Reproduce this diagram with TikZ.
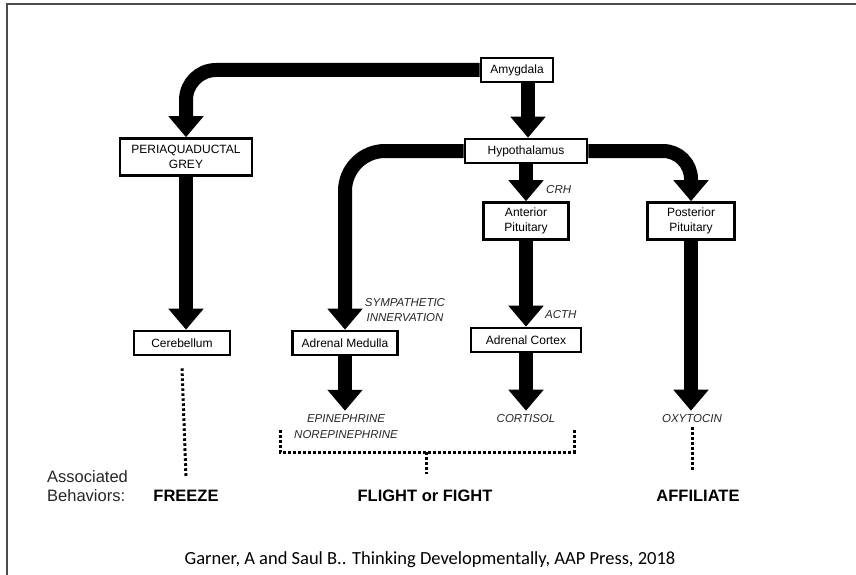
\documentclass[tikz,border=0pt]{standalone}
\usepackage{fontspec}
\setmainfont{Liberation Sans}
\newfontfamily\capfont{Carlito}
\usetikzlibrary{arrows.meta, backgrounds}
\tikzset{
  box/.style={rectangle, draw, line width=2.6pt, fill=white, inner sep=2pt,
    font=\fontsize{12}{14.5}\selectfont, align=center},
  pipe/.style={line width=14pt, -{Triangle[width=34pt,length=21pt]}},
  hormone/.style={inner sep=0pt, text=black!85, align=center,
    font=\fontsize{11.5}{16}\selectfont\itshape},
  behav/.style={inner sep=0pt, font=\fontsize{16.5}{19}\selectfont\bfseries},
  dotline/.style={line width=3pt, dash pattern=on 2.6pt off 2.4pt},
}

\begin{document}
\begin{tikzpicture}[x=1pt, y=-1pt]
  \useasboundingbox (0,0) rectangle (856,575);
  \draw[line width=2pt, black!70] (856,4) -- (7,4) -- (7,575);

  % brain structures
  \node (amyg) [box, minimum width=72pt, minimum height=24pt] at (517,70) {Amygdala};
  \node (hypo) [box, minimum width=122pt, minimum height=24pt] at (526,151) {Hypothalamus};
  \node (pag) [box, minimum width=132pt, minimum height=37pt] at (186,157) {PERIAQUADUCTAL\\GREY};
  \node (antpit) [box, minimum width=85pt, minimum height=37pt] at (526,221) {Anterior\\Pituitary};
  \node (postpit) [box, minimum width=87pt, minimum height=37pt] at (691,221) {Posterior\\Pituitary};
  \node (cereb) [box, minimum width=96pt, minimum height=24pt] at (182,343) {Cerebellum};
  \node (medulla) [box, minimum width=105pt, minimum height=24pt] at (345,343) {Adrenal Medulla};
  \node (cortex) [box, minimum width=110pt, minimum height=24pt] at (526,340) {Adrenal Cortex};

  % messengers
  \node (crh) [hormone, anchor=west] at (546,190) {CRH};
  \node (symp) [hormone, font=\fontsize{11.5}{15}\selectfont\itshape] at (405,310) {SYMPATHETIC\\INNERVATION};
  \node (acth) [hormone, anchor=west] at (545,315) {ACTH};
  \node (epi) [hormone] at (346,427) {EPINEPHRINE\\NOREPINEPHRINE};
  \node (cort) [hormone] at (526,419) {CORTISOL};
  \node (oxy) [hormone] at (692,419) {OXYTOCIN};

  % behaviours
  \node (assoc) [inner sep=0pt, anchor=west, align=left, text=black!85,
    font=\fontsize{16.5}{19}\selectfont] at (47,486) {Associated\\Behaviors:};
  \node (freeze) [behav] at (186,496) {FREEZE};
  \node (flight) [behav] at (425,496) {FLIGHT or FIGHT};
  \node (affil) [behav] at (698,496) {AFFILIATE};

  \node (cite) [font=\capfont\fontsize{18.5}{21}\selectfont] at (430,560)
    {Garner, A and Saul B.. Thinking Developmentally, AAP Press, 2018};

  \begin{scope}[on background layer]
    \draw[pipe, rounded corners=30pt] (amyg.west) -| (pag.north);
    \draw[pipe] ([xshift=11pt]amyg.south) -- ([xshift=11pt]amyg.south |- hypo.north);
    \draw[pipe, rounded corners=40pt] (hypo.west) -| (medulla.north);
    \draw[pipe] (antpit.north |- hypo.south) -- (antpit.north);
    \draw[pipe, rounded corners=28pt] (hypo.east) -| (postpit.north);
    \draw[pipe] (pag.south) -- (pag.south |- cereb.north);
    \draw[pipe] (antpit.south) -- (antpit.south |- cortex.north);
    \draw[pipe, shorten >=4pt] (medulla.south) -- (medulla.south |- epi.north);
    \draw[pipe, shorten >=4pt] (cortex.south) -- (cortex.south |- cort.north);
    \draw[pipe, shorten >=4pt] (postpit.south) -- (postpit.south |- oxy.north);
  \end{scope}

  % dotted links to behaviours
  \coordinate (brTL) at (280,430);
  \coordinate (brBL) at (280,452);
  \coordinate (brBR) at (574,452);
  \coordinate (brTR) at (574,430);
  \coordinate (brMid) at (426,452);
  \draw[dotline] (brTL) -- (brBL) -- (brBR) -- (brTR);
  \draw[dotline] (brMid) -- ([yshift=16pt]flight.north -| brMid);
  \draw[dotline] ([yshift=-12pt]cereb.south) -- ([yshift=12pt]freeze.north);
  \draw[dotline] ([yshift=-4pt]oxy.south) -- ([yshift=19pt]oxy.south |- affil.north);
\end{tikzpicture}
\end{document}
